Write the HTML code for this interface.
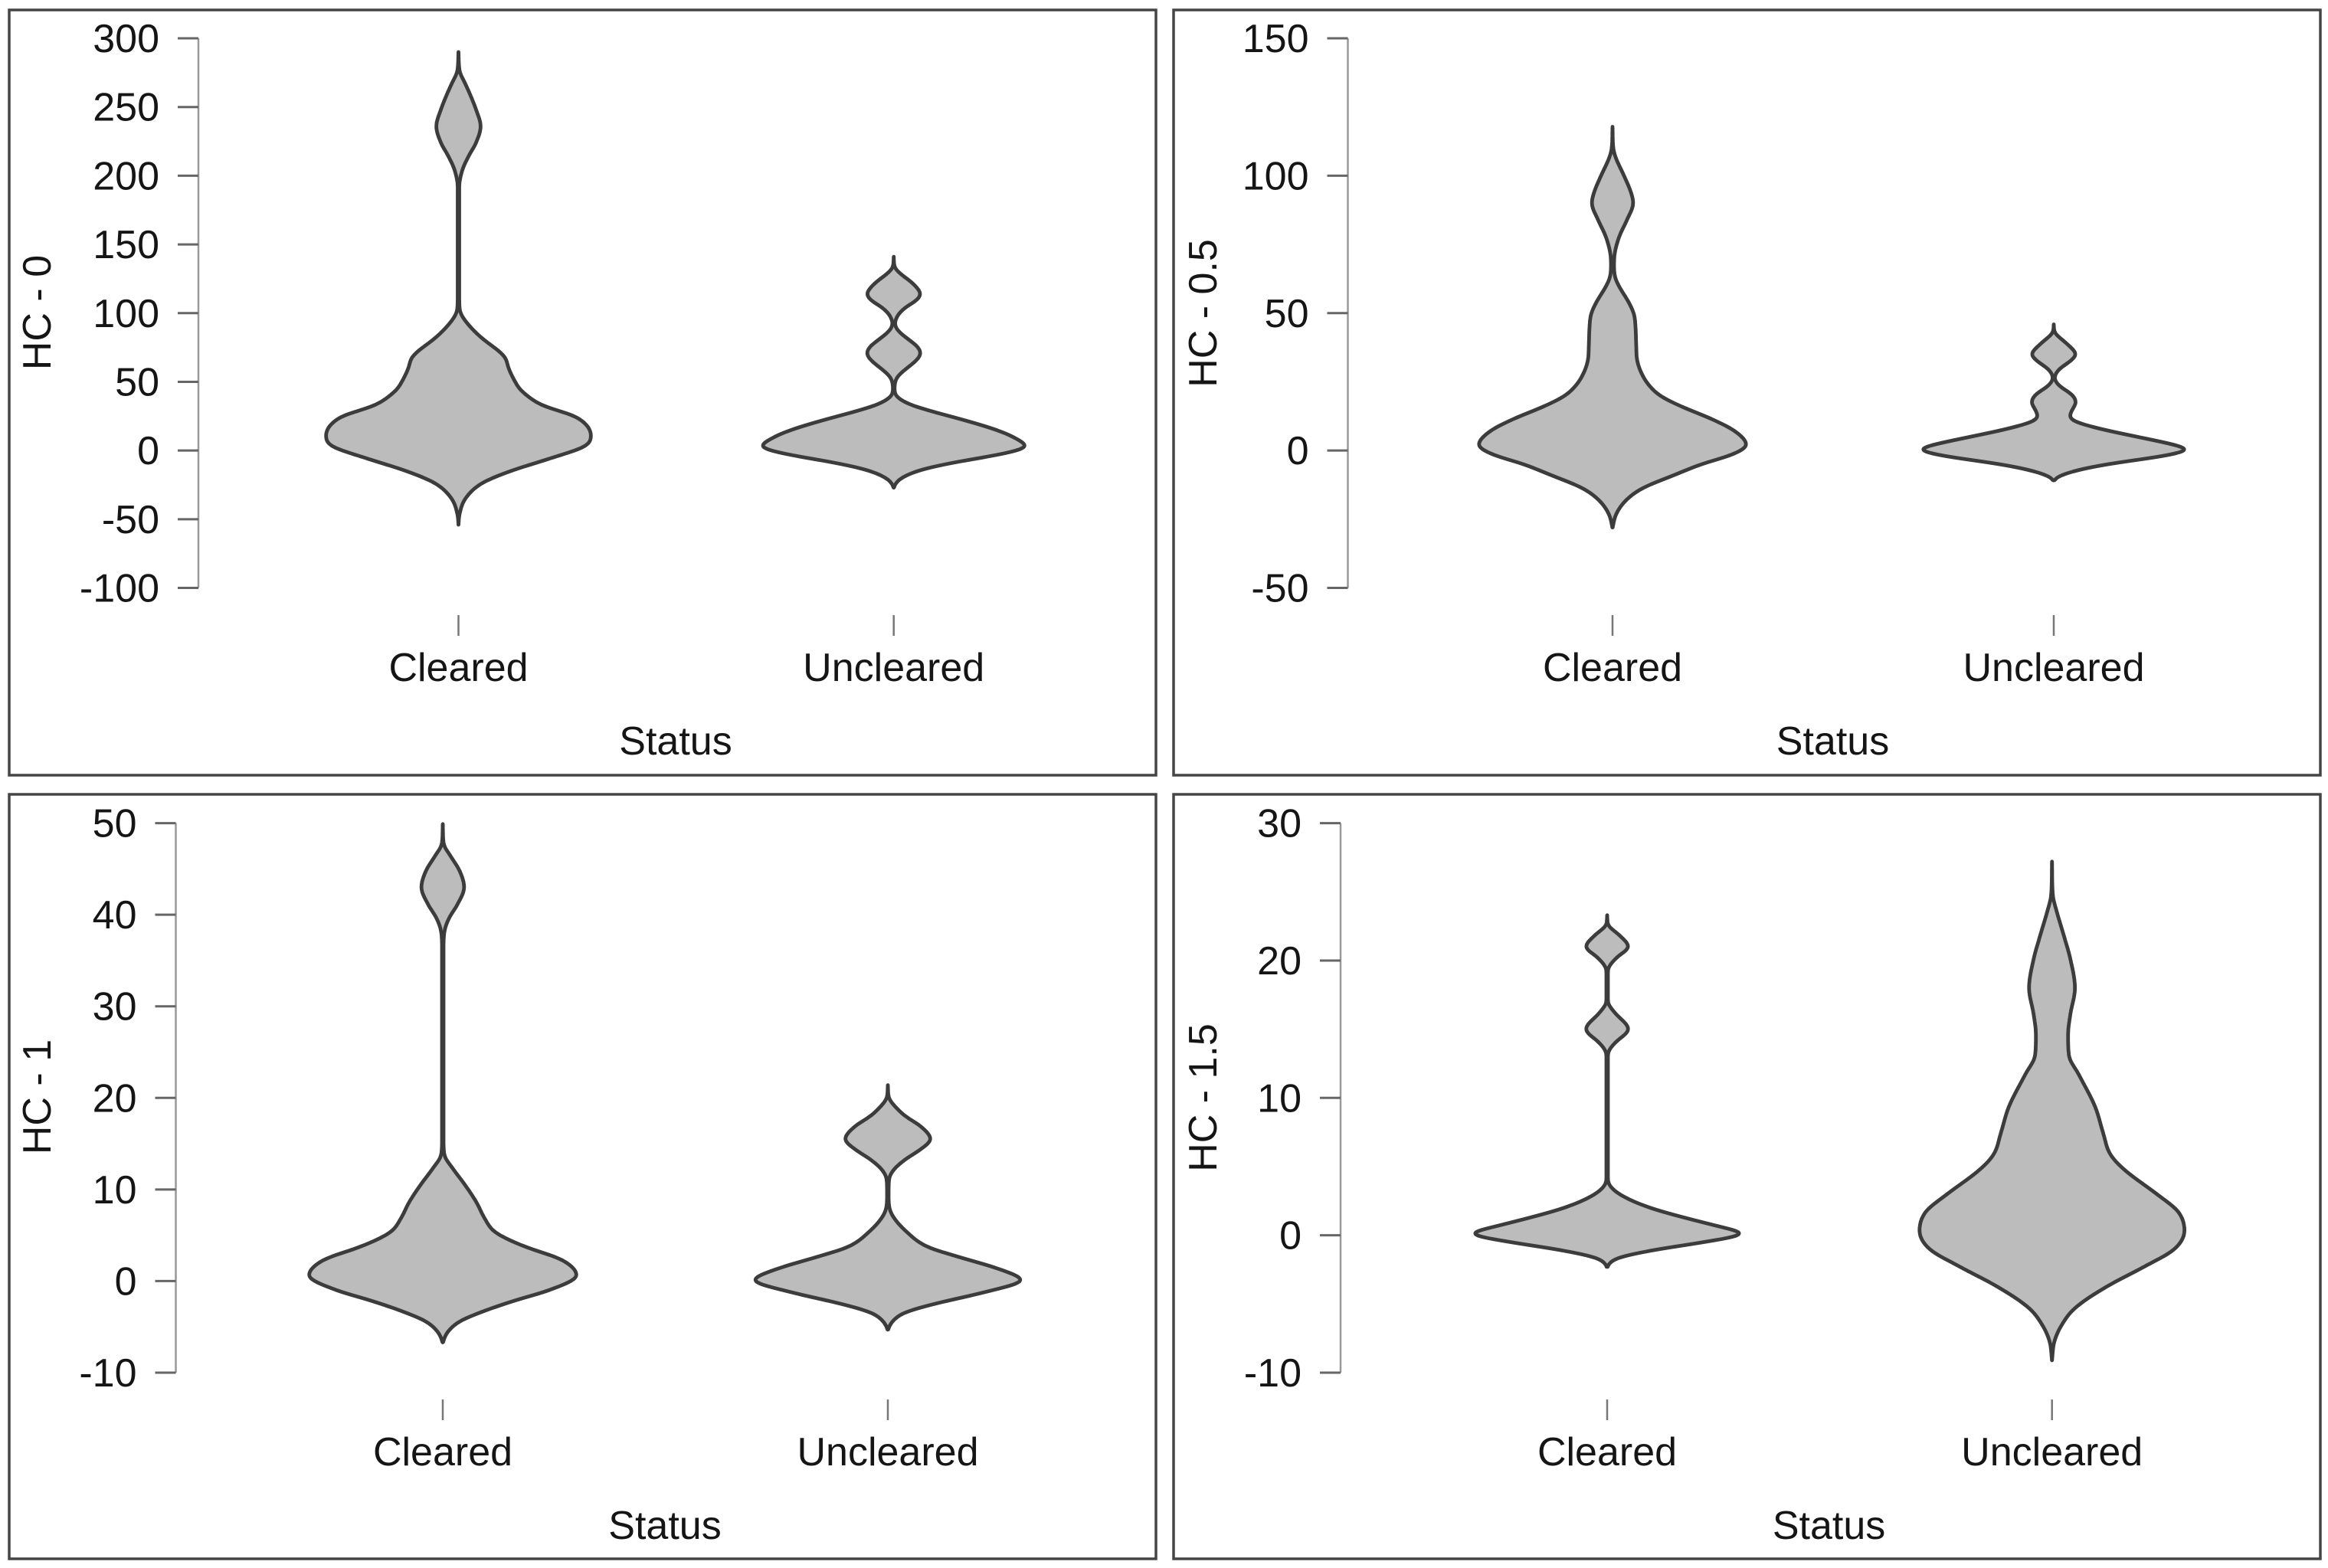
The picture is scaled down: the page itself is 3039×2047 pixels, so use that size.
<!DOCTYPE html>
<html lang="en">
<head>
<meta charset="utf-8">
<title>HC violin plots by clearance status</title>
<style>
  html,body{margin:0;padding:0;background:#fff;}
  svg{display:block;}
  text{font-family:"Liberation Sans",Arial,sans-serif;font-size:52px;fill:#151515;}
  .frame{fill:none;stroke:#454545;stroke-width:3.5;}
  .cat-tick{stroke:#777;stroke-width:2.5;}
  .axis-line{stroke:#999;stroke-width:2.5;}
  .tick{stroke:#666;stroke-width:3;}
  .violin{fill:#bcbcbc;stroke:#3c3c3c;stroke-width:4.8;stroke-linejoin:round;}
</style>
</head>
<body>
<svg id="chart" xmlns="http://www.w3.org/2000/svg" width="3039" height="2047" viewBox="0 0 3039 2047">
  <rect width="3039" height="2047" fill="#fff"/>

  <g id="panel-0">
    <rect class="frame" x="12" y="13" width="1497" height="999"/>
    <text transform="translate(66,408) rotate(-90)" text-anchor="middle">HC - 0</text>
    <line class="cat-tick" x1="598.5" x2="598.5" y1="803" y2="830"/>
    <line class="cat-tick" x1="1166.7" x2="1166.7" y1="803" y2="830"/>
    <text x="598.5" y="889" text-anchor="middle">Cleared</text>
    <text x="1166.7" y="889" text-anchor="middle">Uncleared</text>
    <text x="882" y="985" text-anchor="middle">Status</text>
  </g>

  <g id="panel-05">
    <rect class="frame" x="1532" y="13" width="1497" height="999"/>
    <text transform="translate(1588,409) rotate(-90)" text-anchor="middle">HC - 0.5</text>
    <line class="cat-tick" x1="2105" x2="2105" y1="803" y2="830"/>
    <line class="cat-tick" x1="2681" x2="2681" y1="803" y2="830"/>
    <text x="2105" y="889" text-anchor="middle">Cleared</text>
    <text x="2681" y="889" text-anchor="middle">Uncleared</text>
    <text x="2392.5" y="985" text-anchor="middle">Status</text>
  </g>

  <g id="panel-1">
    <rect class="frame" x="12" y="1037" width="1497" height="998"/>
    <text transform="translate(66,1432) rotate(-90)" text-anchor="middle">HC - 1</text>
    <line class="cat-tick" x1="578" x2="578" y1="1827" y2="1854"/>
    <line class="cat-tick" x1="1159" x2="1159" y1="1827" y2="1854"/>
    <text x="578" y="1913" text-anchor="middle">Cleared</text>
    <text x="1159" y="1913" text-anchor="middle">Uncleared</text>
    <text x="868" y="2009" text-anchor="middle">Status</text>
  </g>

  <g id="panel-15">
    <rect class="frame" x="1532" y="1037" width="1497" height="998"/>
    <text transform="translate(1588,1433) rotate(-90)" text-anchor="middle">HC - 1.5</text>
    <line class="cat-tick" x1="2098" x2="2098" y1="1827" y2="1854"/>
    <line class="cat-tick" x1="2678.7" x2="2678.7" y1="1827" y2="1854"/>
    <text x="2098" y="1913" text-anchor="middle">Cleared</text>
    <text x="2678.7" y="1913" text-anchor="middle">Uncleared</text>
    <text x="2387.6" y="2009" text-anchor="middle">Status</text>
  </g>
</svg>

<script>
// Tick labels
const hc0Ticks = [300, 250, 200, 150, 100, 50, 0, -50, -100];
const hc05Ticks = [150, 100, 50, 0, -50];
const hc1Ticks = [50, 40, 30, 20, 10, 0, -10];
const hc15Ticks = [30, 20, 10, 0, -10];

// Density estimates, top to bottom: value on the y axis, relative density (peak about 173)
const hc0ClearedValues = [290,276,268,258,248,236,224,214,204,192,113,103,95,83,69,59,49,43,33,24,11,3,-5,-15,-24,-35,-46,-54];
const hc0ClearedDensity = [0,1.5,8,16,23,29,23,13,5,1,1,1.5,8,28,59,66,75,83,109,155,173,165,124,68,30,9,1.5,0];

const hc0UnclearedValues = [141,133.6,129,123,118.7,114,109.4,104.8,99,92,86.4,79.7,75,70.4,64.8,58.5,53,45.3,40.7,37,33.3,28.6,21,14,8,3,-2,-8.6,-14,-19.7,-24.3,-27];
const hc0UnclearedDensity = [0,1,8,22,30,35,30,17,6,1.5,7,22,32,35,28,14,4,1,2,9,22,49,99,139,162,173,146,80,36,11,2,0];

const hc05ClearedValues = [117.8,110,106,100,94,90,84,78,72,67.3,63.5,60,54,49.6,45,37.6,33,28,23.6,19.8,16,11.5,7,2,-1.5,-5,-9,-13.6,-18,-23,-28];
const hc05ClearedDensity = [0,1,5,15,24,27,19,9,3,2,3,8,21,28,30,31,32,38,48,63,90,129,160,175,156,116,80,40,18,5,0];

const hc05UnclearedValues = [45.9,43,40.8,38.4,35,32.4,29.6,26.4,23.6,20.3,17.5,14.8,12.5,10.6,7.8,5,2.2,0.4,-2,-4.7,-7,-9.4,-10.9];
const hc05UnclearedDensity = [0,1,9,19,29,21,7,1,7,24,29,24,21,27,62,109,156,175,143,76,33,6,0];

const hc1ClearedValues = [49.9,47.8,46.3,44.8,43,41.1,39.6,38.1,36.3,15.4,13.8,12.3,10.5,8.6,6.8,5.3,3.8,2.3,0.6,-0.9,-2.2,-3.3,-4.4,-5.6,-6.7];
const hc1ClearedDensity = [0,1,11,22,28,19,8,2,1,1,2,13,29,44,55,69,106,156,175,142,91,53,22,6,0];

const hc1UnclearedValues = [21.4,20.1,19.2,18,16.9,15.5,14.4,13.3,12.2,11.1,9.4,8,6.9,5.5,3.8,2.7,1.3,0.1,-1.2,-2.3,-3.4,-4.4,-5.3];
const hc1UnclearedDensity = [0,1,8,23,43,56,43,23,8,1.5,1,2,8,23,50,90,146,175,127,70,23,6,0];

const hc15ClearedValues = [23.3,22.6,21.9,21,20.2,19.3,18.2,17,16.2,15,14,13.2,11.8,4.6,4.06,3.5,2.8,2,1.27,0.7,0.12,-0.5,-1.05,-1.6,-1.97,-2.3];
const hc15ClearedDensity = [0,1,15,28,12,1,1,1,10,28,10,1,1,1,1,5,22,56,102,142,177,126,63,16,4,0];

const hc15UnclearedValues = [27.2,24.8,23.6,21.9,20.1,18,16.1,14.6,13.1,11.7,9.4,7.4,5.9,4.7,2.95,1.7,0.34,-1,-2.3,-3.75,-5.25,-6.5,-7.75,-9.1];
const hc15UnclearedDensity = [0,1,6,15,24,30,24,21,22,35,56,67,76,96,138,165,173,160,120,71,31,13,3,0];

const DENSITY_PEAK = 173;
const VIOLIN_HALF_WIDTH = 173;
const SMOOTH_SIGMA = 3;

const panelSpecs = [
  {group:'panel-0', ticks:hc0Ticks, axisX:259, top:50, bottom:767.5, violins:[
    {name:'violin-cleared', cx:598.5, values:hc0ClearedValues, density:hc0ClearedDensity},
    {name:'violin-uncleared', cx:1166.7, values:hc0UnclearedValues, density:hc0UnclearedDensity}]},
  {group:'panel-05', ticks:hc05Ticks, axisX:1759.5, top:50, bottom:767.5, violins:[
    {name:'violin-cleared', cx:2105, values:hc05ClearedValues, density:hc05ClearedDensity},
    {name:'violin-uncleared', cx:2681, values:hc05UnclearedValues, density:hc05UnclearedDensity}]},
  {group:'panel-1', ticks:hc1Ticks, axisX:229.5, top:1074.6, bottom:1792, violins:[
    {name:'violin-cleared', cx:578, values:hc1ClearedValues, density:hc1ClearedDensity},
    {name:'violin-uncleared', cx:1159, values:hc1UnclearedValues, density:hc1UnclearedDensity}]},
  {group:'panel-15', ticks:hc15Ticks, axisX:1750, top:1074.6, bottom:1792, violins:[
    {name:'violin-cleared', cx:2098, values:hc15ClearedValues, density:hc15ClearedDensity},
    {name:'violin-uncleared', cx:2678.7, values:hc15UnclearedValues, density:hc15UnclearedDensity}]}
];

const SVG_NS = 'http://www.w3.org/2000/svg';

function tangents(ys, ws) {
  const n = ys.length, s = [], m = [];
  for (let i = 0; i < n - 1; i++) s.push((ws[i + 1] - ws[i]) / (ys[i + 1] - ys[i]));
  m[0] = s[0];
  m[n - 1] = s[n - 2];
  for (let i = 1; i < n - 1; i++) {
    if (s[i - 1] * s[i] <= 0) { m[i] = 0; continue; }
    const c = (ws[i + 1] - ws[i - 1]) / (ys[i + 1] - ys[i - 1]);
    const lim = 3 * Math.min(Math.abs(s[i - 1]), Math.abs(s[i]));
    m[i] = Math.sign(c) * Math.min(Math.abs(c), lim);
  }
  return m;
}

function resample(ys, ws) {
  const m = tangents(ys, ws), outY = [], outW = [];
  let seg = 0;
  for (let y = ys[0]; y <= ys[ys.length - 1]; y += 1) {
    while (seg < ys.length - 2 && y > ys[seg + 1]) seg++;
    const h = ys[seg + 1] - ys[seg], t = (y - ys[seg]) / h;
    const t2 = t * t, t3 = t2 * t;
    outY.push(y);
    outW.push((2 * t3 - 3 * t2 + 1) * ws[seg] + (t3 - 2 * t2 + t) * h * m[seg]
      + (-2 * t3 + 3 * t2) * ws[seg + 1] + (t3 - t2) * h * m[seg + 1]);
  }
  outY.push(ys[ys.length - 1]);
  outW.push(0);
  return {ys: outY, ws: outW};
}

function smooth(ws) {
  const radius = Math.ceil(SMOOTH_SIGMA * 3), out = [];
  for (let i = 0; i < ws.length; i++) {
    let sum = 0, weight = 0;
    for (let k = -radius; k <= radius; k++) {
      const g = Math.exp(-k * k / (2 * SMOOTH_SIGMA * SMOOTH_SIGMA));
      const j = i + k;
      sum += g * (j >= 0 && j < ws.length ? ws[j] : 0);
      weight += g;
    }
    out.push(sum / weight);
  }
  out[0] = 0;
  out[out.length - 1] = 0;
  return out;
}

function violinPath(cx, ys, ws) {
  const dense = resample(ys, ws);
  const w = smooth(dense.ws);
  const pts = [];
  for (let i = 0; i < w.length; i++) pts.push((cx + w[i]).toFixed(1) + ' ' + dense.ys[i].toFixed(1));
  for (let i = w.length - 2; i > 0; i--) pts.push((cx - w[i]).toFixed(1) + ' ' + dense.ys[i].toFixed(1));
  return 'M' + pts.join('L') + 'Z';
}

panelSpecs.forEach(function (panel) {
  const group = document.getElementById(panel.group);
  const maxTick = panel.ticks[0];
  const minTick = panel.ticks[panel.ticks.length - 1];
  const yScale = function (v) {
    return panel.top + (maxTick - v) / (maxTick - minTick) * (panel.bottom - panel.top);
  };
  const widthScale = function (d) { return d / DENSITY_PEAK * VIOLIN_HALF_WIDTH; };

  const axis = document.createElementNS(SVG_NS, 'line');
  
  
  axis.setAttribute('class', 'axis-line');
  axis.setAttribute('x1', panel.axisX);
  axis.setAttribute('x2', panel.axisX);
  axis.setAttribute('y1', yScale(maxTick));
  axis.setAttribute('y2', yScale(minTick));
  group.appendChild(axis);

  panel.ticks.forEach(function (tick) {
    const mark = document.createElementNS(SVG_NS, 'line');
    
    
    mark.setAttribute('class', 'tick');
    mark.setAttribute('x1', panel.axisX - 27);
    mark.setAttribute('x2', panel.axisX);
    mark.setAttribute('y1', yScale(tick));
    mark.setAttribute('y2', yScale(tick));
    group.appendChild(mark);

    const label = document.createElementNS(SVG_NS, 'text');
    
    
    label.setAttribute('x', panel.axisX - 51);
    label.setAttribute('y', yScale(tick) + 18);
    label.setAttribute('text-anchor', 'end');
    label.textContent = String(tick);
    group.appendChild(label);
  });

  panel.violins.forEach(function (violin) {
    const ys = violin.values.map(yScale);
    const ws = violin.density.map(widthScale);
    const shape = document.createElementNS(SVG_NS, 'path');
    
    
    shape.setAttribute('class', 'violin');
    shape.setAttribute('d', violinPath(violin.cx, ys, ws));
    group.appendChild(shape);
  });
});
</script>
</body>
</html>
